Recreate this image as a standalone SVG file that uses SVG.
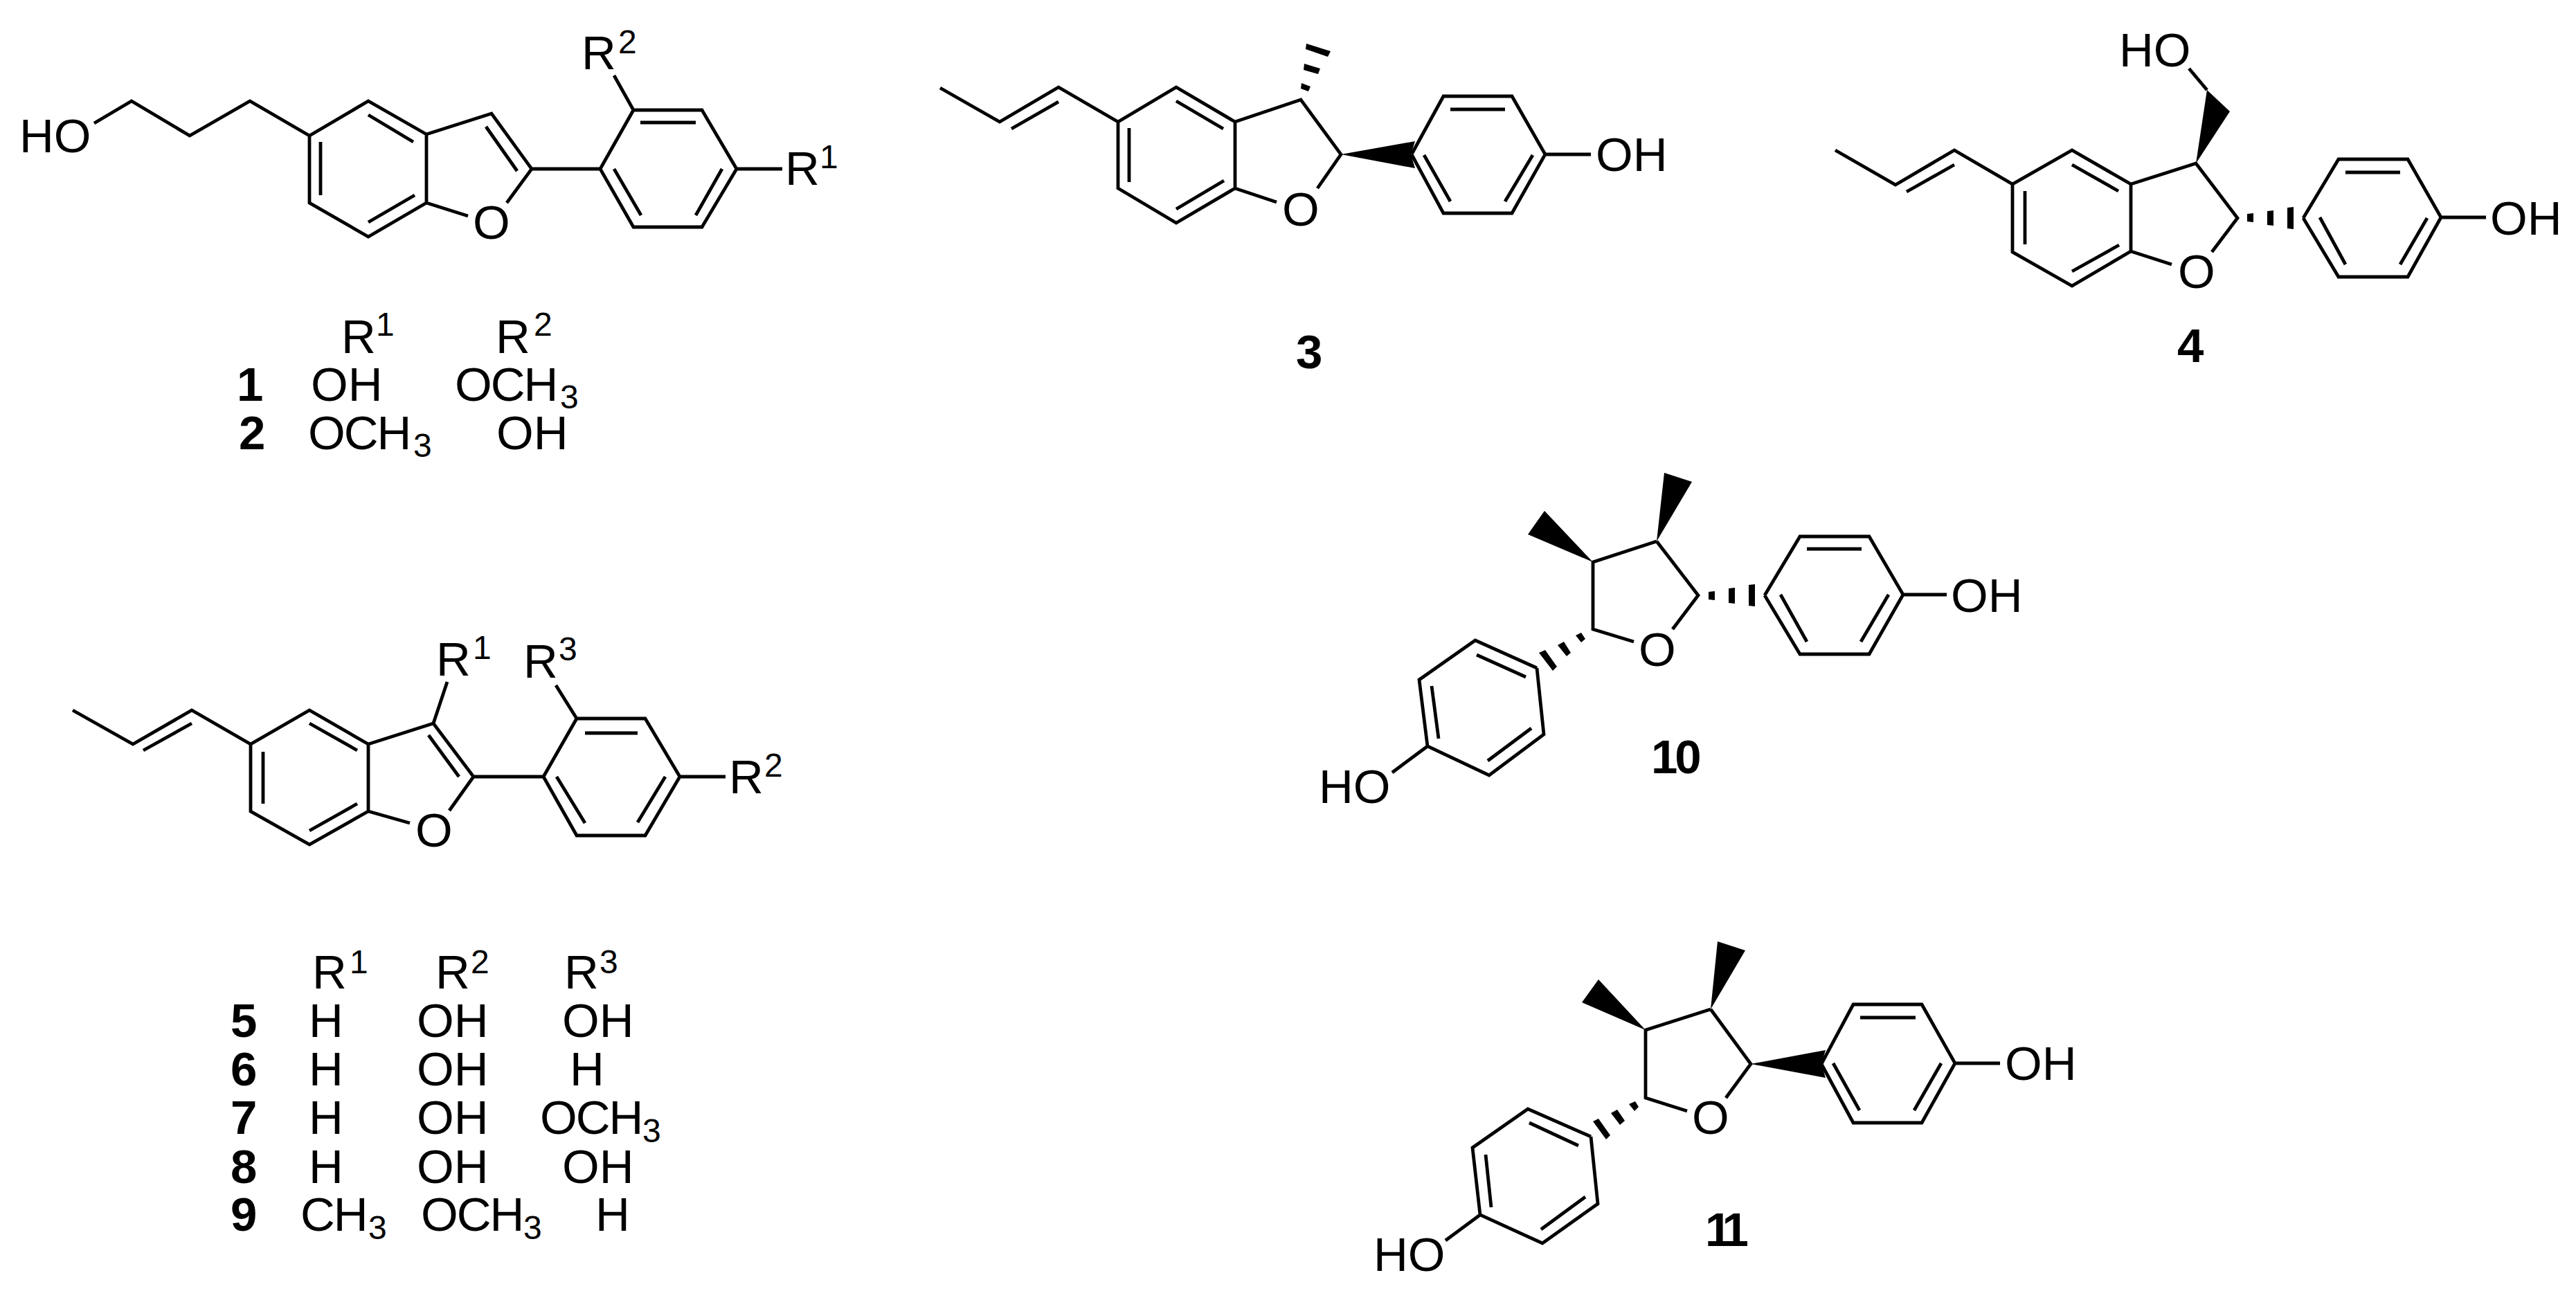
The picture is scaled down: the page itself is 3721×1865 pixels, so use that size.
<svg xmlns="http://www.w3.org/2000/svg" width="3721" height="1865" viewBox="0 0 3721 1865">
<style>
text{font-family:"Liberation Sans",Arial,sans-serif;fill:#000}
.a{font-size:69px}
.s{font-size:48px}
.b{font-size:69px;font-weight:bold}
.t{letter-spacing:-2px}
.bond{fill:none;stroke:#000;stroke-width:4.8;stroke-linejoin:miter;stroke-linecap:butt}
.w{fill:#000}
</style>
<rect width="3721" height="1865" fill="#fff"/>
<g id="connectors">
<path id="bonds-1" class="bond" d="M136 178L190 146L274 196L361 146L447 196L532 146L616 194L710 164L768 244L732 293M676 312L616 293L532 342L447 293V196M616 194V293M532 166L597 205M463 205V282M532 321L599 282M702 183L747 247M768 244H867L915 159H1014L1064 244L1014 328H915L867 244M925 177H1005M887 244L926 311M1043 244L1005 311M915 159L887 109M1064 244H1130"/>
<path id="bonds-3" class="bond" d="M1358 127L1444 176L1529 126L1615 176L1699 126L1784 176L1879 144L1937 223L1903 272M1844 292L1784 272L1699 322L1615 272V176M1784 176V272M1529 147L1461 186M1699 146L1767 186M1631 185V263M1699 302L1768 261M2039 223L2085 139H2184L2232 223L2184 308H2085L2039 223M2095 158H2174M2057 224L2095 291M2214 224L2174 291M2232 223H2298"/>
<polygon class="w" points="1937,223 2044,204 2038,223 2044,243"/>
<polygon class="w" points="1880,120 1893,125 1890,132 1879,128"/><polygon class="w" points="1884,92 1907,99 1904,107 1883,101"/><polygon class="w" points="1887,63 1922,74 1918,82 1886,71"/>
<path id="bonds-4" class="bond" d="M3162 99L3188 130M2651 217L2738 267L2823 217L2907 266L2993 217L3078 266L3172 236L3232 315L3195 364M3137 382L3078 363L2993 413L2907 364V266M3078 266V363M2823 238L2754 277M2993 238L3060 276M2925 276V353M2993 392L3061 354M3327 315L3378 230H3478L3526 314L3478 400H3378L3327 315M3388 249H3467M3351 314L3388 382M3506 315L3467 382M3526 314H3591"/>
<polygon class="w" points="3172,236 3188,130 3221,161"/>
<polygon class="w" points="3246,309 3255,308 3255,321 3246,320"/><polygon class="w" points="3275,305 3284,304 3284,326 3275,325"/><polygon class="w" points="3304,300 3313,299 3313,331 3304,330"/>
<path id="bonds-5" class="bond" d="M105 1026L192 1075L277 1026L362 1075L447 1026L532 1075L626 1045L684 1122L649 1171M592 1189L532 1172L447 1220L362 1172V1075M532 1075V1172M277 1045L207 1084M447 1045L516 1084M380 1086V1161M447 1200L516 1161M619 1062L663 1122M684 1122H785L833 1038H932L982 1122L932 1207H833L785 1122M845 1059H921M804 1122L845 1189M961 1122L921 1188M982 1122H1048M626 1045L646 985M833 1038L803 990"/>
<path id="bonds-10" class="bond" d="M2393 782L2453 860L2416 909M2360 927L2301 909V812L2393 782M2549 860L2600 775H2700L2749 859L2700 945H2600L2549 860M2610 793H2689M2572 859L2610 927M2728 859L2688 927M2749 859H2812M2220 965L2131 925L2050 982L2062 1078L2151 1120L2230 1061L2220 965M2133 946L2204 978M2068 991L2078 1067M2149 1099L2212 1052M2062 1078L2011 1116"/>
<polygon class="w" points="2393,782 2404,683 2444,696"/>
<polygon class="w" points="2301,812 2231,738 2207,772"/>
<polygon class="w" points="2468,855 2477,854 2477,867 2468,866"/><polygon class="w" points="2497,850 2506,849 2506,872 2497,871"/><polygon class="w" points="2526,845 2535,844 2535,876 2526,875"/>
<polygon class="w" points="2276,918 2284,914 2290,923 2284,928"/><polygon class="w" points="2250,932 2259,927 2269,943 2263,948"/><polygon class="w" points="2223,943 2232,939 2249,963 2243,969"/>
<path id="bonds-11" class="bond" d="M2471 1458L2529 1537L2493 1586M2437 1605L2377 1586V1488L2471 1458M2631 1537L2677 1451H2776L2824 1536L2776 1622H2677L2631 1537M2687 1470H2767M2648 1536L2686 1604M2804 1536L2765 1604M2824 1536H2889M2298 1642L2207 1602L2127 1658L2138 1755L2228 1796L2308 1739L2298 1642M2209 1622L2280 1655M2146 1668L2154 1744M2226 1776L2290 1729M2138 1755L2088 1792"/>
<polygon class="w" points="2471,1458 2481,1360 2521,1373"/>
<polygon class="w" points="2377,1488 2309,1415 2285,1448"/>
<polygon class="w" points="2529,1537 2637,1517 2631,1537 2637,1557"/>
<polygon class="w" points="2353,1595 2362,1591 2367,1599 2361,1605"/><polygon class="w" points="2327,1608 2336,1603 2347,1619 2340,1625"/><polygon class="w" points="2301,1620 2309,1616 2326,1640 2320,1646"/>
</g>
<g id="compound-1">
<text class="a" x="28" y="220">HO</text>
<text class="a" x="683" y="345">O</text>
<text class="a" x="840" y="100">R</text><text class="s" x="893" y="77">2</text>
<text class="a" x="1134" y="267">R</text><text class="s" x="1184" y="243">1</text>
<text class="a" x="493" y="510">R</text><text class="s" x="543" y="485">1</text>
<text class="a" x="716" y="510">R</text><text class="s" x="771" y="485">2</text>
<text class="b" x="342" y="579">1</text>
<text class="a" x="449" y="579">OH</text>
<text class="a t" x="657" y="579">OCH</text><text class="s" x="809" y="590">3</text>
<text class="b" x="345" y="649">2</text>
<text class="a t" x="445" y="649">OCH</text><text class="s" x="597" y="660">3</text>
<text class="a" x="717" y="649">OH</text>
</g>
<g id="compound-3">
<text class="a" x="1852" y="326">O</text>
<text class="a" x="2305" y="247">OH</text>
<text class="b" x="1872" y="532">3</text>
</g>
<g id="compound-4">
<text class="a" x="3061" y="96">HO</text>
<text class="a" x="3146" y="416">O</text>
<text class="a" x="3597" y="339">OH</text>
<text class="b" x="3145" y="523">4</text>
</g>
<g id="compound-5">
<text class="a" x="600" y="1223">O</text>
<text class="a" x="630" y="976">R</text><text class="s" x="683" y="952">1</text>
<text class="a" x="756" y="979">R</text><text class="s" x="807" y="954">3</text>
<text class="a" x="1053" y="1146">R</text><text class="s" x="1104" y="1122">2</text>
<text class="a" x="451" y="1428">R</text><text class="s" x="505" y="1406">1</text>
<text class="a" x="629" y="1428">R</text><text class="s" x="680" y="1406">2</text>
<text class="a" x="815" y="1428">R</text><text class="s" x="866" y="1406">3</text>
<text class="b" x="333" y="1498">5</text><text class="a" x="446" y="1498">H</text><text class="a" x="602" y="1498">OH</text><text class="a" x="812" y="1498">OH</text>
<text class="b" x="333" y="1568">6</text><text class="a" x="446" y="1568">H</text><text class="a" x="602" y="1568">OH</text><text class="a" x="823" y="1568">H</text>
<text class="b" x="333" y="1638">7</text><text class="a" x="446" y="1638">H</text><text class="a" x="602" y="1638">OH</text><text class="a t" x="780" y="1638">OCH</text><text class="s" x="928" y="1650">3</text>
<text class="b" x="333" y="1709">8</text><text class="a" x="446" y="1709">H</text><text class="a" x="602" y="1709">OH</text><text class="a" x="812" y="1709">OH</text>
<text class="b" x="333" y="1778">9</text><text class="a t" x="434" y="1778">CH</text><text class="s" x="532" y="1790">3</text><text class="a t" x="608" y="1778">OCH</text><text class="s" x="756" y="1790">3</text><text class="a" x="860" y="1778">H</text>
</g>
<g id="compound-10">
<text class="a" x="2367" y="962">O</text>
<text class="a" x="2818" y="884">OH</text>
<text class="a" x="1905" y="1160">HO</text>
<text class="b" x="2385" y="1117" letter-spacing="-4">10</text>
</g>
<g id="compound-11">
<text class="a" x="2444" y="1638">O</text>
<text class="a" x="2896" y="1560">OH</text>
<text class="a" x="1984" y="1836">HO</text>
<text class="b" x="2463" y="1800" letter-spacing="-10">11</text>
</g>
</svg>
